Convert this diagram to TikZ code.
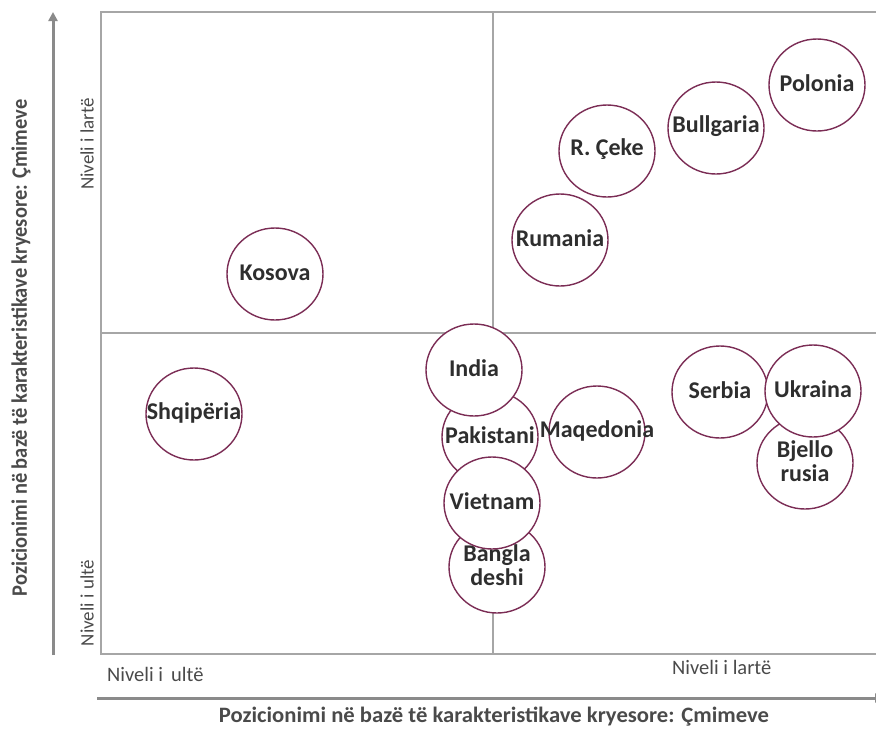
\documentclass[tikz,border=0pt]{standalone}
\usepackage{fontspec}
\setmainfont{Carlito}
\usetikzlibrary{shapes.geometric,arrows.meta}
\definecolor{circ}{HTML}{7B2D55}
\definecolor{txt}{HTML}{2E2E2E}
\definecolor{frm}{HTML}{A6A6A6}
\definecolor{axc}{HTML}{8A8A8A}
\definecolor{lab}{HTML}{4A4A4A}
\begin{document}
\begin{tikzpicture}[x=1pt,y=-1pt,
  ctext/.style={font=\fontsize{24}{24}\selectfont\bfseries, text=txt, align=center, inner sep=0pt, yshift=1.5pt},
  ctry/.style={ellipse, draw=circ, fill=white, line width=1.4pt,
    minimum width=96pt, minimum height=92pt, inner sep=0pt,
    label={[ctext]center:#1}},
  frame/.style={draw=frm, line width=1.5pt},
  axis/.style={draw=axc, line width=3pt, -{Triangle[length=9pt,width=9pt]}},
  small/.style={font=\fontsize{19}{22}\selectfont, text=lab, inner sep=0pt},
  title/.style={font=\fontsize{22}{24}\selectfont\bfseries, text=lab, inner sep=0pt}
]
\useasboundingbox (0,0) rectangle (876,729);
% frame and quadrants
\draw[frame] (900,12) -- (101,12) -- (101,654) -- (900,654);
\draw[frame] (493,12) -- (493,654);
\draw[frame] (101,333) -- (900,333);
% axes
\coordinate (ys) at (53,655);
\coordinate (ye) at (53,12);
\coordinate (xs) at (97,698);
\coordinate (xe) at (884,698);
\draw[axis] (ys) -- (ye);
\draw[axis] (xs) -- (xe);
% axis labels
\node[small, rotate=90] (yhi) at (87,144) {Niveli i lartë};
\node[small, rotate=90] (ylo) at (87,603) {Niveli i ultë};
\node[font=\fontsize{20.5}{22}\selectfont, text=lab, inner sep=0pt, anchor=west] (xlo) at (107,674) {Niveli i\, ultë};
\node[font=\fontsize{20.5}{22}\selectfont, text=lab, inner sep=0pt, anchor=west] (xhi) at (672,667) {Niveli i lartë};
\node[title] (xt) at (494,717) {\scalebox{1.03}[1]{Pozicionimi në bazë të karakteristikave kryesore: Çmimeve}};
\node[title, rotate=90] (yt) at (21,348) {\scalebox{0.93}[1]{Pozicionimi në bazë të karakteristikave kryesore: Çmimeve}};
% countries
\node[ctry=Polonia] (pol) at (817,85) {};
\node[ctry=Bullgaria] (bul) at (716,128) {};
\node[ctry={R. Çeke}] (cek) at (607,151) {};
\node[ctry=Rumania] (rum) at (560,240) {};
\node[ctry=Kosova] (kos) at (275,274) {};
\node[ctry=Shqipëria] (shq) at (194,414) {};
\node[ctry=Pakistani] (pak) at (490,437) {};
\node[ctry={Bangla\\deshi}] (ban) at (497,567) {};
\node[ctry=India] (ind) at (474,370) {};
\node[ctry=Vietnam] (vie) at (492,503) {};
\node[ctry=Maqedonia] (maq) at (597,432) {};
\node[ctry={Bjello\\rusia}] (bje) at (805,463) {};
\node[ctry=Serbia] (ser) at (720,392) {};
\node[ctry=Ukraina] (ukr) at (813,391) {};
\end{tikzpicture}
\end{document}
